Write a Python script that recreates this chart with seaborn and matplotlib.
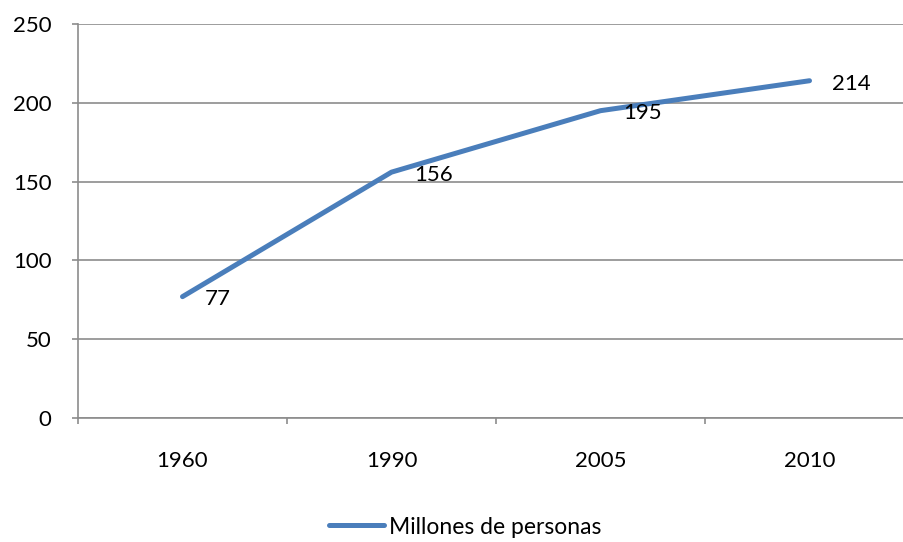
import pandas as pd
import matplotlib.pyplot as plt
import seaborn as sns

# Data
years = ["1960", "1990", "2005", "2010"]
personas = [77, 156, 195, 214]
serie = "Millones de personas"

df = pd.DataFrame({"year": years, "value": personas})

sns.set_style("white")
plt.rcParams["font.family"] = ["Lato", "DejaVu Sans"]
plt.rcParams["text.color"] = "black"
plt.rcParams["xtick.color"] = "black"
plt.rcParams["ytick.color"] = "black"

grid_color = "#8c8c8c"
line_color = "#4a7ebb"
fs = 16

fig = plt.figure(figsize=(9.04, 5.42), dpi=100)
# plot area runs slightly past the right edge of the picture, as in the original
ax = fig.add_axes([78 / 904, 1 - 418 / 542, 836 / 904, (418 - 24) / 542])

sns.lineplot(data=df, x="year", y="value", ax=ax, color=line_color,
             linewidth=3.6, label=serie, sort=False,
             solid_capstyle="round", solid_joinstyle="round")

# data labels to the right of each point
for i, v in enumerate(personas):
    ax.annotate(str(v), (i, v), xytext=(16, -2), textcoords="offset points",
                ha="left", va="center", fontsize=fs, color="black")

ax.set_ylim(0, 250)
ax.set_yticks(range(0, 251, 50))
ax.set_xlim(-0.5, 3.5)
ax.set_xlabel("")
ax.set_ylabel("")

# category boundaries as tick marks, labels at category centres
ax.set_xticks([-0.5, 0.5, 1.5, 2.5, 3.5])
ax.set_xticklabels([])
ax.set_xticks(range(len(years)), minor=True)
ax.set_xticklabels(years, minor=True, fontsize=fs)
ax.tick_params(axis="x", which="major", direction="out", length=4, width=1.2,
               color=grid_color, bottom=True)
ax.tick_params(axis="x", which="minor", length=0, pad=24, labelcolor="black")
ax.tick_params(axis="y", direction="out", length=4, width=1.2, color=grid_color,
               left=True, labelsize=fs, pad=15, labelcolor="black")

ax.grid(axis="y", color=grid_color, linewidth=1.2)
ax.set_axisbelow(True)
for side in ["top", "right"]:
    ax.spines[side].set_visible(False)
for side in ["left", "bottom"]:
    ax.spines[side].set_color(grid_color)
    ax.spines[side].set_linewidth(1.2)

ax.get_legend().remove()
handles, labels = ax.get_legend_handles_labels()
leg = fig.legend(handles, labels, loc="center", bbox_to_anchor=(465 / 904, 1 - 527 / 542),
                 frameon=False, fontsize=16.5, handlelength=2.4, handletextpad=0.2)
for t in leg.get_texts():
    t.set_color("black")

fig.savefig("out.png", dpi=100)
